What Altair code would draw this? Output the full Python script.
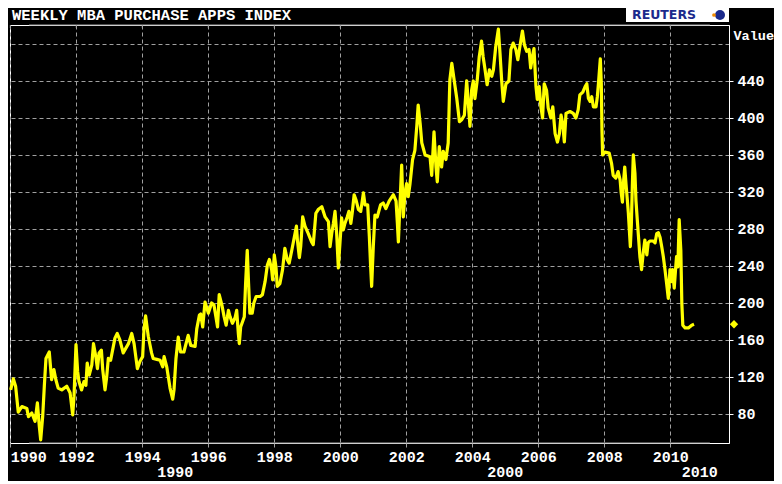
import altair as alt
import pandas as pd

TITLE = "WEEKLY MBA PURCHASE APPS INDEX"
Y_TITLE = "Value"
LOGO = "REUTERS"

years = [
    1990.01, 1990.09, 1990.16, 1990.24, 1990.35, 1990.50, 1990.55, 1990.65, 1990.75, 1990.82,
    1990.88, 1990.92, 1990.98, 1991.03, 1991.08, 1991.18, 1991.25, 1991.32, 1991.38, 1991.45,
    1991.56, 1991.71, 1991.81, 1991.89, 1991.93, 1991.99, 1992.04, 1992.08, 1992.16, 1992.23,
    1992.29, 1992.33, 1992.39, 1992.47, 1992.52, 1992.59, 1992.64, 1992.69, 1992.76, 1992.80,
    1992.87, 1992.92, 1992.97, 1993.04, 1993.17, 1993.24, 1993.32, 1993.42, 1993.58, 1993.68,
    1993.75, 1993.85, 1993.93, 1994.01, 1994.05, 1994.10, 1994.18, 1994.28, 1994.33, 1994.44,
    1994.54, 1994.62, 1994.66, 1994.74, 1994.84, 1994.92, 1994.96, 1995.02, 1995.09, 1995.16,
    1995.26, 1995.39, 1995.47, 1995.60, 1995.65, 1995.73, 1995.77, 1995.83, 1995.90, 1996.00,
    1996.10, 1996.17, 1996.23, 1996.28, 1996.33, 1996.41, 1996.48, 1996.54, 1996.61, 1996.66,
    1996.73, 1996.81, 1996.86, 1996.91, 1996.94, 1996.98, 1997.04, 1997.09, 1997.13, 1997.18,
    1997.22, 1997.26, 1997.33, 1997.38, 1997.45, 1997.57, 1997.64, 1997.72, 1997.79, 1997.85,
    1997.92, 1997.95, 1998.00, 1998.05, 1998.09, 1998.17, 1998.25, 1998.32, 1998.39, 1998.45,
    1998.53, 1998.60, 1998.67, 1998.70, 1998.76, 1998.80, 1998.86, 1998.93, 1999.03, 1999.13,
    1999.18, 1999.26, 1999.33, 1999.44, 1999.54, 1999.64, 1999.69, 1999.74, 1999.79, 1999.84,
    1999.89, 1999.94, 1999.99, 2000.04, 2000.09, 2000.14, 2000.21, 2000.26, 2000.32, 2000.36,
    2000.42, 2000.48, 2000.55, 2000.62, 2000.70, 2000.75, 2000.83, 2000.88, 2000.92, 2000.95,
    2001.00, 2001.05, 2001.12, 2001.22, 2001.30, 2001.38, 2001.48, 2001.61, 2001.69, 2001.73,
    2001.76, 2001.81, 2001.86, 2001.91, 2001.96, 2002.01, 2002.06, 2002.11, 2002.19, 2002.26,
    2002.32, 2002.36, 2002.42, 2002.47, 2002.57, 2002.72, 2002.77, 2002.84, 2002.90, 2002.94,
    2003.00, 2003.07, 2003.12, 2003.20, 2003.27, 2003.32, 2003.38, 2003.45, 2003.53, 2003.61,
    2003.68, 2003.76, 2003.83, 2003.88, 2003.93, 2003.98, 2004.03, 2004.08, 2004.15, 2004.21,
    2004.28, 2004.33, 2004.38, 2004.45, 2004.52, 2004.59, 2004.64, 2004.71, 2004.79, 2004.84,
    2004.89, 2004.94, 2005.02, 2005.11, 2005.17, 2005.24, 2005.32, 2005.38, 2005.45, 2005.52,
    2005.58, 2005.65, 2005.72, 2005.77, 2005.82, 2005.87, 2005.93, 2005.97, 2006.03, 2006.08,
    2006.13, 2006.18, 2006.25, 2006.30, 2006.38, 2006.44, 2006.51, 2006.58, 2006.64, 2006.69,
    2006.74, 2006.79, 2006.84, 2006.96, 2007.06, 2007.14, 2007.21, 2007.26, 2007.35, 2007.42,
    2007.47, 2007.52, 2007.57, 2007.62, 2007.67, 2007.75, 2007.79, 2007.83, 2007.88, 2007.91,
    2007.93, 2007.95, 2008.02, 2008.15, 2008.22, 2008.27, 2008.35, 2008.42, 2008.48, 2008.51,
    2008.55, 2008.58, 2008.62, 2008.66, 2008.70, 2008.73, 2008.76, 2008.79, 2008.82, 2008.85,
    2008.88, 2008.93, 2008.96, 2009.00, 2009.04, 2009.08, 2009.13, 2009.18, 2009.23, 2009.29,
    2009.33, 2009.38, 2009.48, 2009.54, 2009.59, 2009.64, 2009.69, 2009.74, 2009.79, 2009.84,
    2009.89, 2009.94, 2009.99, 2010.03, 2010.07, 2010.12, 2010.16, 2010.19, 2010.23, 2010.27,
    2010.32, 2010.35, 2010.38, 2010.45, 2010.55, 2010.65, 2010.72,
]

values = [
    106, 118, 110, 82, 88, 86, 77, 81, 72, 92,
    66, 52, 77, 110, 140, 147, 117, 128, 117, 108,
    106, 110, 103, 79, 99, 155, 126, 115, 106, 115,
    111, 135, 122, 133, 156, 142, 129, 146, 149, 128,
    106, 120, 140, 138, 162, 167, 160, 146, 156, 167,
    156, 129, 137, 142, 171, 186, 164, 146, 140, 139,
    138, 131, 142, 131, 108, 96, 106, 140, 163, 147,
    147, 165, 154, 153, 172, 187, 188, 174, 201, 189,
    200, 198, 185, 174, 209, 198, 185, 176, 192, 185,
    178, 184, 192, 167, 156, 174, 180, 185, 221, 257,
    221, 189, 189, 200, 207, 207, 209, 223, 241, 247,
    236, 225, 252, 239, 218, 221, 236, 259, 247, 243,
    257, 270, 283, 268, 249, 261, 293, 283, 275, 266,
    263, 297, 301, 304, 293, 288, 261, 275, 286, 299,
    275, 238, 265, 292, 279, 286, 293, 299, 286, 297,
    317, 311, 301, 299, 319, 306, 306, 272, 239, 218,
    261, 295, 293, 306, 308, 302, 310, 317, 310, 286,
    266, 308, 349, 293, 319, 329, 315, 328, 355, 365,
    392, 414, 394, 373, 360, 358, 338, 385, 347, 331,
    369, 347, 364, 355, 373, 441, 459, 441, 421, 396,
    398, 403, 440, 416, 391, 430, 440, 421, 441, 466,
    483, 466, 454, 436, 452, 445, 452, 477, 496, 470,
    441, 418, 437, 440, 474, 481, 474, 463, 479, 494,
    479, 472, 474, 454, 466, 475, 434, 420, 434, 412,
    400, 437, 430, 411, 400, 412, 383, 374, 383, 403,
    394, 374, 405, 407, 405, 400, 409, 425, 428, 434,
    437, 421, 418, 423, 412, 412, 423, 440, 464, 437,
    387, 360, 363, 362, 351, 338, 335, 342, 333, 320,
    309, 329, 347, 328, 311, 297, 279, 261, 284, 326,
    360, 340, 311, 290, 270, 250, 236, 254, 268, 252,
    265, 267, 267, 265, 275, 276, 271, 261, 250, 236,
    221, 205, 236, 223, 236, 216, 236, 250, 239, 290,
    257, 200, 176, 173, 173, 176, 177,
]

x_ticks = list(range(1990, 2011, 2))
y_grid = list(range(80, 481, 40))
decades = [1990, 2000, 2010]

assert len(years) == len(values)

# layout / style
X_DOMAIN = [1989.99, 2011.78]
Y_DOMAIN = [48.6, 500.5]
W, H = 719, 418
MONO = "Liberation Mono"
LBL = 15
GRID = "#a0a0a0"
YELLOW = "#ffff00"
NAVY = "#1b2a8c"
FRAME_INSET = 0.58

df = pd.DataFrame({"year": years, "value": values})
last = df.tail(1)
tick_df = pd.DataFrame({"year": x_ticks})
dec_df = pd.DataFrame({
    "label": [str(d) for d in decades],
    "year": [(max(d, X_DOMAIN[0]) + min(d + 10, X_DOMAIN[1])) / 2 for d in decades],
})
frame_df = pd.DataFrame({
    "year": [X_DOMAIN[0] + FRAME_INSET] * 2,
    "year2": [X_DOMAIN[1] - FRAME_INSET] * 2,
    "value": Y_DOMAIN,
})
one = pd.DataFrame({"t": [TITLE], "logo": [LOGO]})

xs = alt.Scale(domain=X_DOMAIN, nice=False, zero=False)
ys = alt.Scale(domain=Y_DOMAIN, nice=False, zero=False)

x_axis = alt.Axis(
    values=x_ticks, format="d", labelFlush=True, labelOverlap=False,
    tickSize=4, tickColor=GRID, domain=False,
    labelColor="white", labelFont=MONO, labelFontWeight="bold", labelFontSize=LBL,
    labelPadding=2, grid=True, gridColor=GRID, gridDash=[4, 3], gridWidth=1,
    title=None,
)
y_axis = alt.Axis(
    orient="right", values=y_grid, format="d",
    labelExpr="datum.value == 480 ? '' : datum.label",
    tickColor={"condition": {"test": "datum.value == 480", "value": "transparent"}, "value": "white"},
    tickSize=4, domainColor="white", labelPadding=4,
    labelColor="white", labelFont=MONO, labelFontWeight="bold", labelFontSize=LBL,
    grid=True, gridColor=GRID, gridDash=[4, 3], gridWidth=1,
    title=Y_TITLE, titleAngle=0, titleAlign="left", titleBaseline="middle",
    titleX=4, titleY=10, titleColor="white", titleFont=MONO,
    titleFontWeight="bold", titleFontSize=13.5,
)


def X(field):
    return alt.X(field, type="quantitative", scale=xs, axis=x_axis)


def Y(field):
    return alt.Y(field, type="quantitative", scale=ys, axis=y_axis)


line = alt.Chart(df).mark_line(color=YELLOW, strokeWidth=3.2, strokeJoin="round").encode(
    x=X("year"), y=Y("value"),
)

frame = alt.Chart(frame_df).mark_rule(color=GRID, strokeWidth=1).encode(
    x=X("year"), x2="year2:Q", y=Y("value"),
)

top_ticks = alt.Chart(tick_df).mark_rule(color=GRID, strokeWidth=1).encode(
    x=X("year"), y=alt.value(0), y2=alt.value(3),
)

marker = alt.Chart(last).mark_point(shape="diamond", filled=True, color=YELLOW, size=70, opacity=1).encode(
    x=alt.value(W + 5), y=Y("value"),
)

decade_labels = alt.Chart(dec_df).mark_text(
    color="white", font=MONO, fontWeight="bold", fontSize=LBL, baseline="alphabetic", align="center",
).encode(
    x=X("year"), y=alt.value(H + 34), text="label:N",
)

title = alt.Chart(one).mark_text(
    color="white", font=MONO, fontWeight="bold", fontSize=15.5, align="left", baseline="top",
).encode(x=alt.value(2), y=alt.value(-17), text="t:N")

logo_box = alt.Chart(one).mark_rect(color="white").encode(
    x=alt.value(616), x2=alt.value(719), y=alt.value(-17), y2=alt.value(-3),
)
logo_text = alt.Chart(one).mark_text(
    color=NAVY, font="DejaVu Sans", fontWeight="bold", fontSize=12.5, align="left", baseline="top",
).encode(x=alt.value(622), y=alt.value(-16), text="logo:N")
logo_globe = alt.Chart(one).mark_point(shape="circle", filled=True, color=NAVY, size=100, opacity=1).encode(
    x=alt.value(710), y=alt.value(-10),
)
logo_dot = alt.Chart(one).mark_point(shape="circle", filled=True, color="#f08a00", size=14, opacity=1).encode(
    x=alt.value(704), y=alt.value(-10),
)

chart = alt.layer(
    line, frame, top_ticks, marker, decade_labels, title,
    logo_box, logo_text, logo_globe, logo_dot,
).properties(
    width=W, height=H,
    autosize=alt.AutoSizeParams(type="none"),
    padding={"left": 2, "top": 17, "right": 45, "bottom": 38},
).configure(background="black").configure_view(stroke="white", strokeWidth=1)

chart.save("out.html", embed_options={"renderer": "svg", "actions": False})
